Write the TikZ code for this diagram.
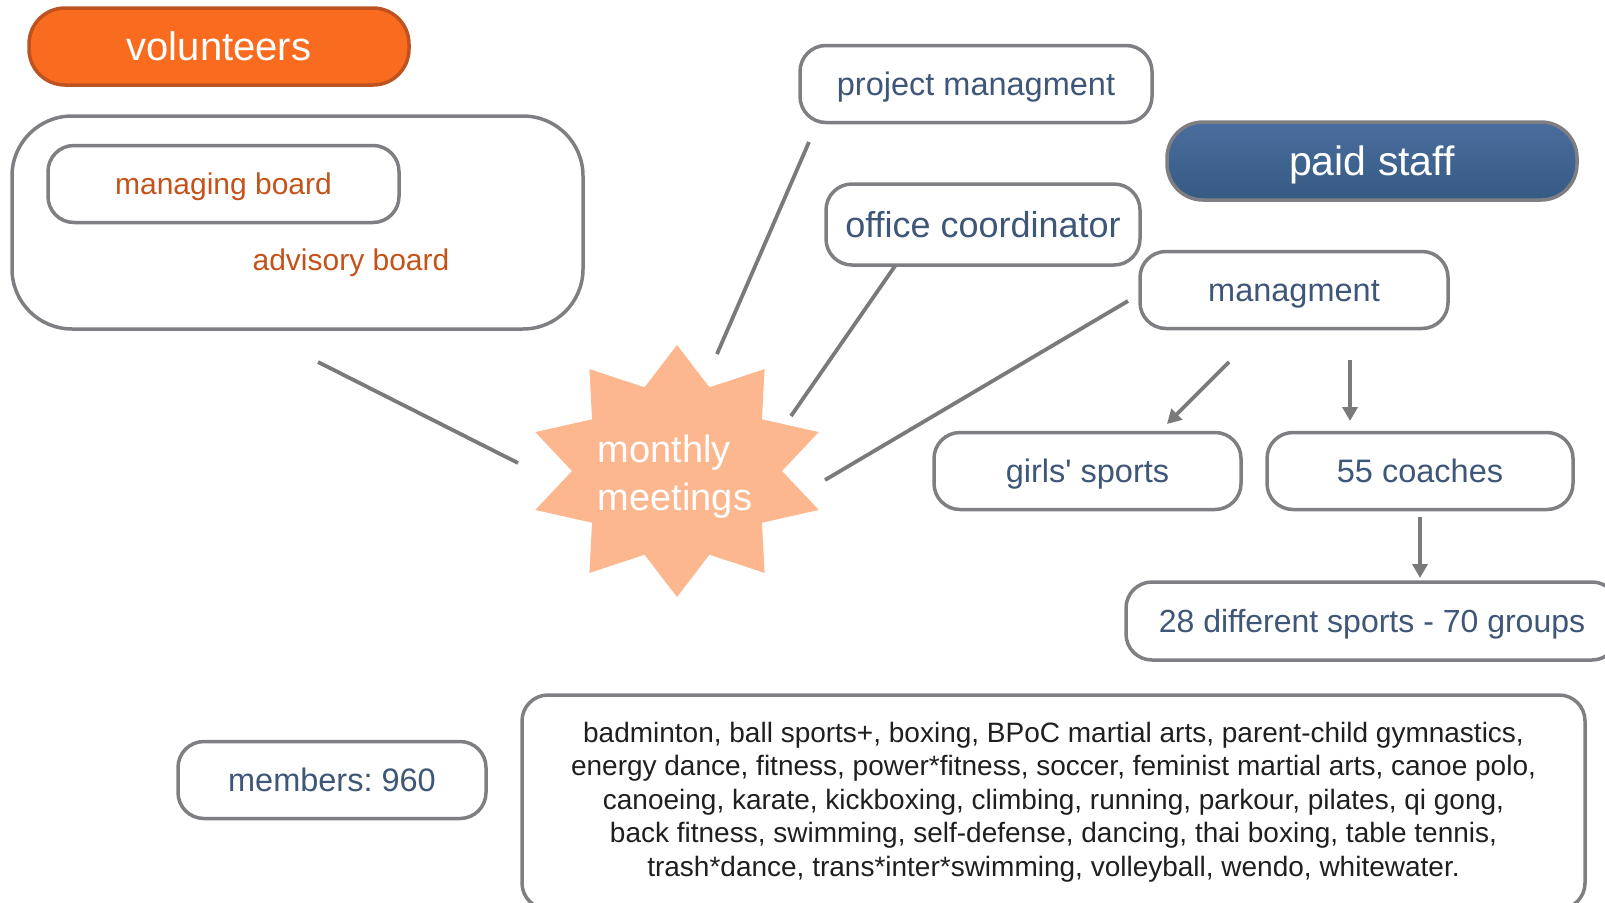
\documentclass[tikz,border=0pt]{standalone}
\usepackage{fontspec}
\setmainfont{Liberation Sans}
\usetikzlibrary{arrows.meta}
\frenchspacing
\definecolor{boxgray}{HTML}{7F7F83}
\definecolor{linegray}{HTML}{7A7A7A}
\definecolor{txtblue}{HTML}{3E5678}
\definecolor{txtorange}{HTML}{C4531A}
\definecolor{volfill}{HTML}{F96C1F}
\definecolor{voldraw}{HTML}{BE5220}
\definecolor{pstop}{HTML}{4A6D9F}
\definecolor{psbot}{HTML}{365A82}
\definecolor{starfill}{HTML}{FCB78E}
\newcommand{\fsz}[1]{\fontsize{#1}{#1}\selectfont}
\tikzset{
  box/.style={draw=boxgray, line width=3.5pt, rounded corners=26pt, fill=white,
    inner sep=0pt, text=txtblue, font=\fsz{32.5}},
  th/.style={text height=#1, text depth=0pt},
  conn/.style={draw=linegray, line width=3.8pt},
  arr/.style={draw=linegray, line width=3.8pt, -{Triangle[length=14pt,width=15pt]}},
}
\begin{document}
\begin{tikzpicture}[x=1pt,y=-1pt]
\useasboundingbox (0,0) rectangle (1605,902);
\clip (0,0) rectangle (1605,902);
% volunteers
\node[box, th=28.6pt, draw=voldraw, fill=volfill, text=white, rounded corners=36pt,
  minimum width=380pt, minimum height=77pt, font=\fsz{40}] (vol) at (219,46.5) {volunteers};
% big box
\node[box, rounded corners=60pt, minimum width=571pt, minimum height=213pt] (boards) at (297.5,222.5) {};
\node[box, th=21.5pt, text=txtorange, font=\fsz{30}, minimum width=351pt, minimum height=77pt] (mb) at (223.5,184) {managing board};
\node[th=21.5pt, text=txtorange, font=\fsz{30}, inner sep=0pt] (ab) at (351,260) {advisory board};
% right side
\node[box, th=23.3pt, minimum width=352pt, minimum height=77pt] (pm) at (976,84) {project managment};
\node[box, th=29.4pt, draw=boxgray, top color=pstop, bottom color=psbot, text=white, rounded corners=36pt,
  minimum width=410pt, minimum height=78pt, font=\fsz{41}] (ps) at (1372,161) {paid staff};
\node[box, th=25.8pt, font=\fsz{36}, minimum width=314pt, minimum height=81pt] (oc) at (983,224.5) {office coordinator};
\node[box, th=23.3pt, minimum width=308pt, minimum height=77pt] (mg) at (1294,290) {managment};
\node[box, th=23.3pt, minimum width=307pt, minimum height=77pt] (gs) at (1087.5,471) {girls\textquotesingle{} sports};
\node[box, th=23.3pt, minimum width=306pt, minimum height=77pt] (co) at (1420,471) {55 coaches};
\node[box, th=22.9pt, font=\fsz{32}, minimum width=492pt, minimum height=78pt] (ds) at (1372,621) {28 different sports - 70 groups};
\node[box, th=23.3pt, minimum width=308pt, minimum height=77pt] (mem) at (332,780) {members: 960};
\node[box, text=black!88, minimum width=1063pt, minimum height=214pt, align=center,
  font={\fontsize{28}{33.6}\selectfont}] (list) at (1053.5,802)
  {badminton, ball sports+, boxing, BPoC martial arts, parent-child gymnastics,\\
   energy dance, fitness, power*fitness, soccer, feminist martial arts, canoe polo,\\
   canoeing, karate, kickboxing, climbing, running, parkour, pilates, qi gong,\\
   back fitness, swimming, self-defense, dancing, thai boxing, table tennis,\\
   trash*dance, trans*inter*swimming, volleyball, wendo, whitewater.};
% star
\fill[starfill] (677,345) \foreach \k in {0,...,9} {
  -- ({677+105*cos(72-36*\k)},{471-88*sin(72-36*\k)})
  -- ({677+149*cos(54-36*\k)},{471-126*sin(54-36*\k)}) } -- cycle;
\node[text=white, font={\fontsize{38}{48}\selectfont}, align=left, inner sep=0pt] (mm) at (675,477) {monthly\\meetings};
% connector ends
\coordinate (b1) at (318,362); \coordinate (b2) at (518,463);
\coordinate (p1) at (809,142); \coordinate (p2) at (717,354);
\coordinate (o1) at (895,266); \coordinate (o2) at (791,416);
\coordinate (m1) at (1128,301); \coordinate (m2) at (825,480);
\coordinate (a1s) at (1229,362); \coordinate (a1e) at (1167,424);
\coordinate (a2s) at (1350,360); \coordinate (a2e) at (1350,421);
\coordinate (a3s) at (1420,517); \coordinate (a3e) at (1420,578);
\draw[conn] (b1) -- (b2);
\draw[conn] (p1) -- (p2);
\draw[conn] (o1) -- (o2);
\draw[conn] (m1) -- (m2);
\draw[arr] (a1s) -- (a1e);
\draw[arr] (a2s) -- (a2e);
\draw[arr] (a3s) -- (a3e);
\end{tikzpicture}
\end{document}
